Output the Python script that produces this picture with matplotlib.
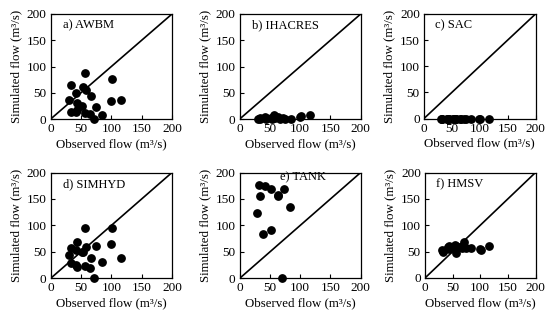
import matplotlib
matplotlib.use('Agg')
import matplotlib.pyplot as plt
import numpy as np

plt.rcParams['font.family'] = ['Liberation Serif', 'DejaVu Serif']
plt.rcParams['font.size'] = 9

# Observed flow (m3/s), shared by most panels
observed = [56, 33, 42, 54, 58, 101, 30, 67, 44, 52, 99, 116, 33, 41, 44, 57, 64, 75, 84, 71]

# Simulated flow per model, same order as observed
awbm = [87, 64, 49, 61, 55, 76, 37, 44, 30, 25, 35, 37, 14, 14, 18, 12, 10, 23, 8, 0]
ihacres = [7, 2, 3, 0, 2, 5, 0, 0, 1, 2, 4, 7, 0, 1, 0, 3, 4, 0, 0, 2]
sac = [0] * 20
simhyd = [96, 58, 53, 50, 59, 96, 44, 38, 69, 50, 65, 39, 28, 26, 21, 23, 19, 62, 31, 0]
hmsv = [60, 52, 58, 62, 56, 54, 53, 57, 60, 57, 55, 60, 50, 56, 55, 48, 58, 57, 57, 68]

# TANK: only the points that fall inside the 0-200 window
tank_obs = [32, 41, 33, 52, 63, 64, 74, 83, 29, 52, 39, 70]
tank_sim = [177, 175, 155, 169, 158, 155, 169, 134, 123, 91, 83, 0]

panels = [
    ('a) AWBM', observed, awbm),
    ('b) IHACRES', observed, ihacres),
    ('c) SAC', observed, sac),
    ('d) SIMHYD', observed, simhyd),
    ('e) TANK', tank_obs, tank_sim),
    ('f) HMSV', observed, hmsv),
]

W, H = 550, 322
fig = plt.figure(figsize=(W / 100, H / 100), dpi=100)

# axes boxes in pixels: left, right, top, bottom
boxes = [
    (50.7, 172, 14, 119),
    (239.7, 360.7, 14, 119),
    (424, 535.5, 14, 118.5),
    (50.7, 172, 172.5, 278.3),
    (239.7, 360.7, 172.5, 278.3),
    (425, 535.5, 172.5, 278),
]

for (title, obs, sim), (l, r, t, b) in zip(panels, boxes):
    ax = fig.add_axes([l / W, 1 - b / H, (r - l) / W, (b - t) / H])
    ax.plot([0, 200], [0, 200], color='black', linewidth=1.2, zorder=2)
    ax.scatter(obs, sim, s=28, color='black', zorder=3, clip_on=False)
    ax.set_xlim(0, 200)
    ax.set_ylim(0, 200)
    ax.set_xticks([0, 50, 100, 150, 200])
    ax.set_yticks([0, 50, 100, 150, 200])
    ax.tick_params(direction='in', length=3, width=0.8, pad=3, labelsize=9.5)
    for s in ax.spines.values():
        s.set_linewidth(0.9)
    ax.set_xlabel('Observed flow (m³/s)', labelpad=2, fontsize=9.3)
    ax.set_ylabel('Simulated flow (m³/s)', labelpad=3, fontsize=9.3)
    if title.startswith('e'):
        ax.text(66, 191, title, fontsize=9, va='center')
    else:
        ax.text(0.1, 0.89, title, transform=ax.transAxes, fontsize=9, va='center')

fig.savefig('out.png', dpi=100)
